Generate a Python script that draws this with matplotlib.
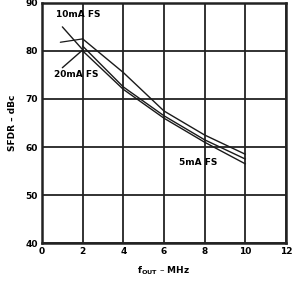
import matplotlib
matplotlib.use("Agg")
import matplotlib.pyplot as plt

# SFDR vs output frequency for three full-scale currents
f_out = [2, 4, 6, 8, 10]
sfdr_10ma = [82.5, 75.5, 67.5, 62.5, 58.5]
sfdr_20ma = [81.0, 72.5, 66.5, 61.5, 57.5]
sfdr_5ma = [80.0, 72.0, 66.0, 61.0, 56.5]

x_ticks = [0, 2, 4, 6, 8, 10, 12]
y_ticks = [40, 50, 60, 70, 80, 90]

fig = plt.figure(figsize=(2.92, 2.86), dpi=100)
ax = fig.add_axes([0.144, 0.150, 0.835, 0.840])

for y in (sfdr_10ma, sfdr_20ma, sfdr_5ma):
    ax.plot(f_out, y, color="#1a1a1a", lw=1.0)

ax.set_xlim(0, 12)
ax.set_ylim(40, 90)
ax.set_xticks(x_ticks)
ax.set_yticks(y_ticks)
ax.grid(True, color="#222222", lw=1.3)
ax.tick_params(length=0, labelsize=6.5, pad=3)
for lab in ax.get_xticklabels() + ax.get_yticklabels():
    lab.set_fontweight("bold")
for s in ax.spines.values():
    s.set_linewidth(1.8)
    s.set_color("#222222")

ax.set_xlabel(r"$\mathbf{f_{OUT}}$ – MHz", fontsize=6.5, fontweight="bold", labelpad=6)
ax.set_ylabel("SFDR – dBc", fontsize=6.5, fontweight="bold", labelpad=6)

# curve labels with leader lines
ax.text(1.8, 87.6, "10mA FS", fontsize=6.5, fontweight="bold", ha="center", va="center")
ax.text(1.7, 75.0, "20mA FS", fontsize=6.5, fontweight="bold", ha="center", va="center")
ax.text(7.7, 56.7, "5mA FS", fontsize=6.5, fontweight="bold", ha="center", va="center")
ax.annotate("", xy=(2.05, 80.0), xytext=(1.0, 85.0),
            arrowprops=dict(arrowstyle="-", color="#1a1a1a", lw=1.0, shrinkA=0, shrinkB=0))
ax.annotate("", xy=(2.0, 80.2), xytext=(1.0, 76.5),
            arrowprops=dict(arrowstyle="-", color="#1a1a1a", lw=1.0, shrinkA=0, shrinkB=0))
ax.annotate("", xy=(2.0, 82.5), xytext=(0.9, 81.8),
            arrowprops=dict(arrowstyle="-", color="#1a1a1a", lw=0.9, shrinkA=0, shrinkB=0))

fig.savefig("out.png", dpi=100)
